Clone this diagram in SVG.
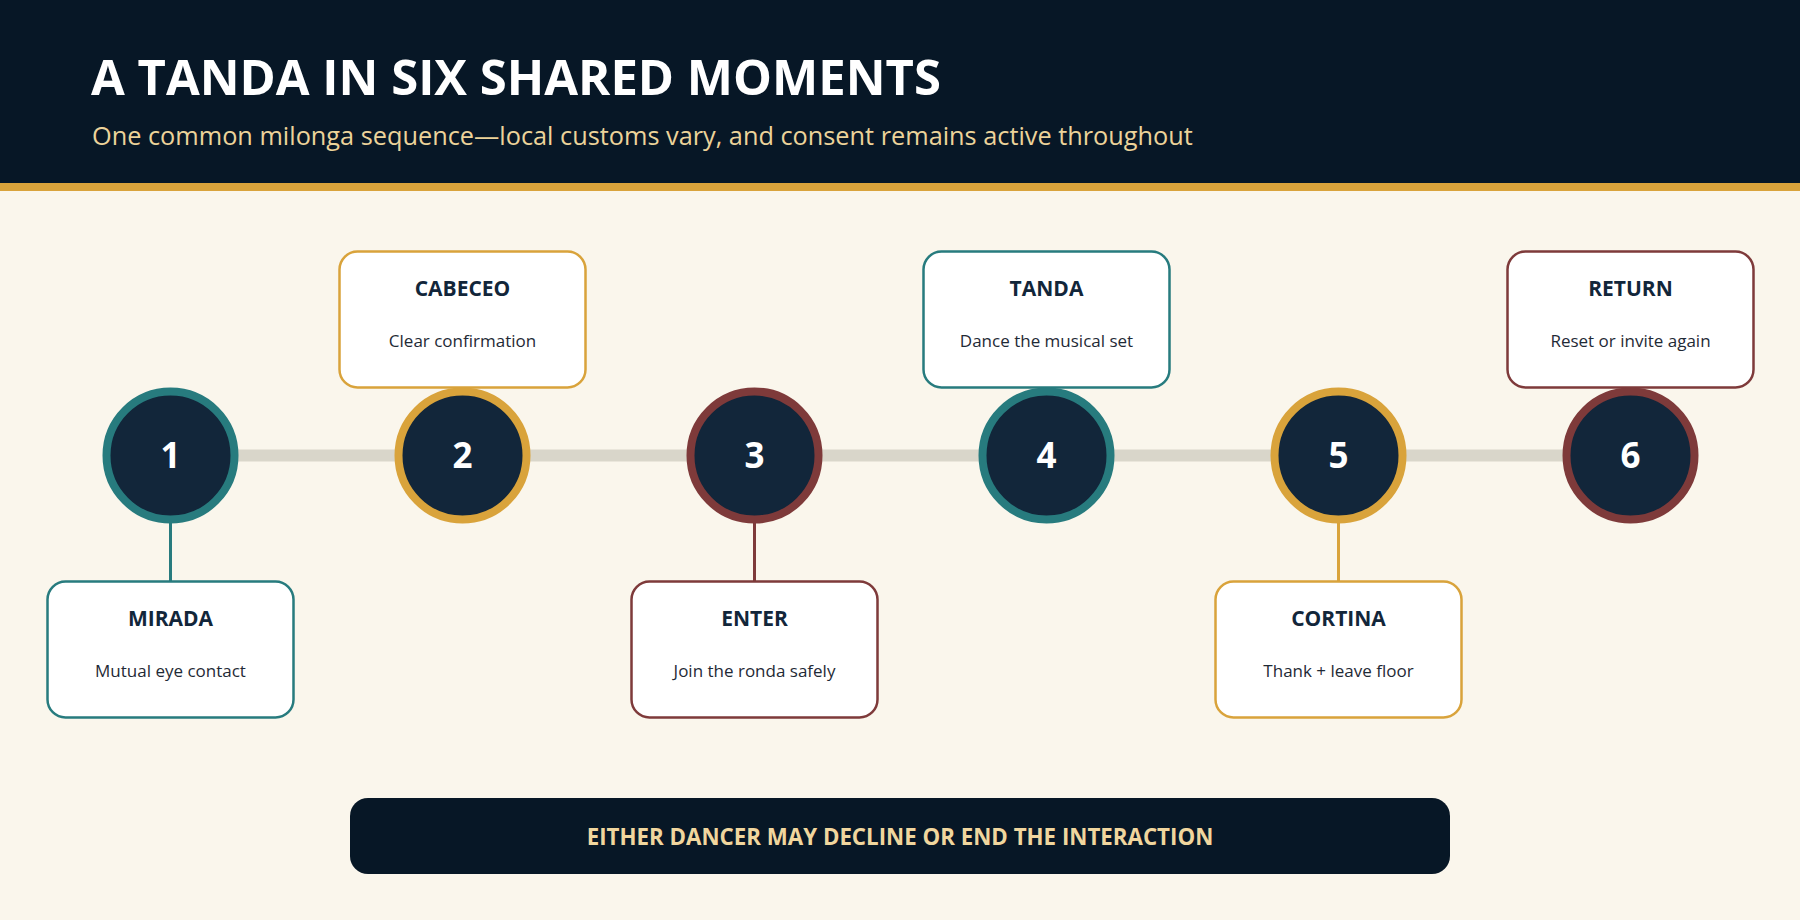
<svg xmlns="http://www.w3.org/2000/svg" width="1800" height="920" viewBox="0 0 1800 920">
  <style>
    .title{font-family:"Open Sans","Noto Sans","Liberation Sans",sans-serif;font-weight:700;font-size:49px;fill:#ffffff}
    .sub{font-family:"Open Sans","Noto Sans","Liberation Sans",sans-serif;font-size:25.3px;fill:#ecd39a}
    .box{fill:#ffffff;stroke-width:2.5}
    .bt{font-family:"Open Sans","Noto Sans","Liberation Sans",sans-serif;font-weight:700;font-size:21px;fill:#12263a;text-anchor:middle}
    .bs{font-family:"Open Sans","Noto Sans","Liberation Sans",sans-serif;font-size:17px;fill:#1f2a36;text-anchor:middle}
    .num{font-family:"Open Sans","Noto Sans","Liberation Sans",sans-serif;font-weight:700;font-size:35px;fill:#ffffff;text-anchor:middle}
    .circ{fill:#12263a;stroke-width:8}
    .teal{stroke:#277b7e}
    .gold{stroke:#d9a33b}
    .maroon{stroke:#7e3a3a}
    .banner{font-family:"Open Sans","Noto Sans","Liberation Sans",sans-serif;font-weight:700;font-size:22.3px;fill:#f0d69e;text-anchor:middle}
  </style>
  <rect x="0" y="0" width="1800" height="920" fill="#faf6ec"/>
  <g id="header">
    <rect x="0" y="0" width="1800" height="183" fill="#071726"/>
    <rect x="0" y="183" width="1800" height="8" fill="#d9a33b"/>
    <text class="title" x="91" y="95">A TANDA IN SIX SHARED MOMENTS</text>
    <text class="sub" x="92" y="145">One common milonga sequence—local customs vary, and consent remains active throughout</text>
  </g>
  <g id="connectors">
    <line x1="170" y1="455.5" x2="1630" y2="455.5" stroke="#d9d6ca" stroke-width="12"/>
    <line x1="170.5" y1="520" x2="170.5" y2="582" stroke="#277b7e" stroke-width="3"/>
    <line x1="754.5" y1="520" x2="754.5" y2="582" stroke="#7e3a3a" stroke-width="3"/>
    <line x1="1338.5" y1="520" x2="1338.5" y2="582" stroke="#d9a33b" stroke-width="3"/>
  </g>
  <g id="node1">
    <circle class="circ teal" cx="170.5" cy="455.5" r="64"/>
    <text class="num" x="170.5" y="468">1</text>
    <rect class="box teal" x="47.5" y="581.5" width="246" height="136" rx="18"/>
    <text class="bt" x="170.5" y="626">MIRADA</text>
    <text class="bs" x="170.5" y="677">Mutual eye contact</text>
  </g>
  <g id="node2">
    <rect class="box gold" x="339.5" y="251.5" width="246" height="136" rx="18"/>
    <text class="bt" x="462.5" y="296">CABECEO</text>
    <text class="bs" x="462.5" y="347">Clear confirmation</text>
    <circle class="circ gold" cx="462.5" cy="455.5" r="64"/>
    <text class="num" x="462.5" y="468">2</text>
  </g>
  <g id="node3">
    <circle class="circ maroon" cx="754.5" cy="455.5" r="64"/>
    <text class="num" x="754.5" y="468">3</text>
    <rect class="box maroon" x="631.5" y="581.5" width="246" height="136" rx="18"/>
    <text class="bt" x="754.5" y="626">ENTER</text>
    <text class="bs" x="754.5" y="677">Join the ronda safely</text>
  </g>
  <g id="node4">
    <rect class="box teal" x="923.5" y="251.5" width="246" height="136" rx="18"/>
    <text class="bt" x="1046.5" y="296">TANDA</text>
    <text class="bs" x="1046.5" y="347">Dance the musical set</text>
    <circle class="circ teal" cx="1046.5" cy="455.5" r="64"/>
    <text class="num" x="1046.5" y="468">4</text>
  </g>
  <g id="node5">
    <circle class="circ gold" cx="1338.5" cy="455.5" r="64"/>
    <text class="num" x="1338.5" y="468">5</text>
    <rect class="box gold" x="1215.5" y="581.5" width="246" height="136" rx="18"/>
    <text class="bt" x="1338.5" y="626">CORTINA</text>
    <text class="bs" x="1338.5" y="677">Thank + leave floor</text>
  </g>
  <g id="node6">
    <rect class="box maroon" x="1507.5" y="251.5" width="246" height="136" rx="18"/>
    <text class="bt" x="1630.5" y="296">RETURN</text>
    <text class="bs" x="1630.5" y="347">Reset or invite again</text>
    <circle class="circ maroon" cx="1630.5" cy="455.5" r="64"/>
    <text class="num" x="1630.5" y="468">6</text>
  </g>
  <g id="footer">
    <rect x="350" y="798" width="1100" height="76" rx="18" fill="#071726"/>
    <text class="banner" x="900" y="845">EITHER DANCER MAY DECLINE OR END THE INTERACTION</text>
  </g>
</svg>
